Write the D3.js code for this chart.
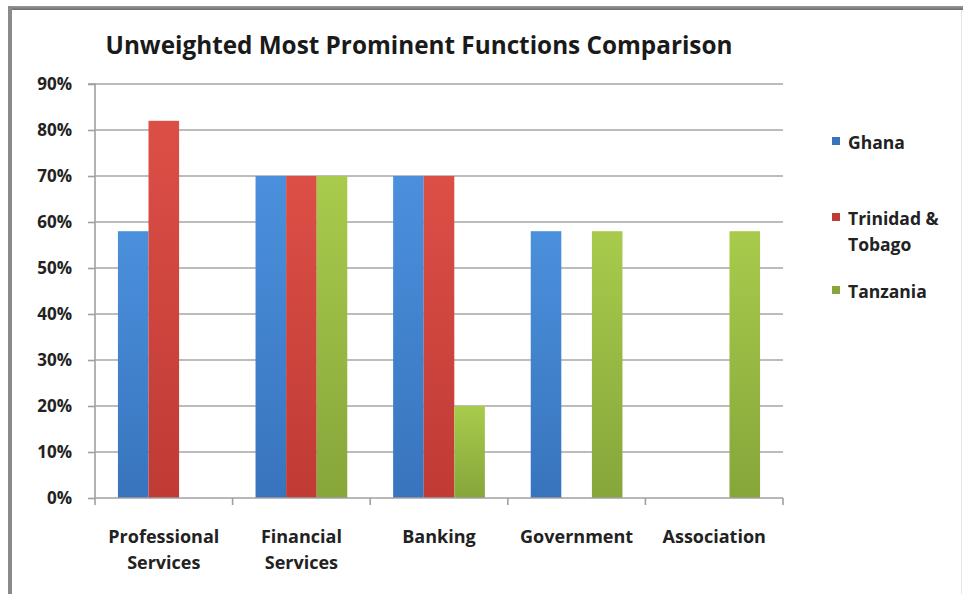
<!DOCTYPE html>
<html><head><meta charset="utf-8">
<script src="https://cdn.jsdelivr.net/npm/d3@7"></script>
<style>body{margin:0;background:#fff;}svg{display:block;font-family:"Open Sans","Liberation Sans",sans-serif;}</style>
</head><body>
<svg id="c" width="963" height="594"></svg>
<script>
const categories = ["Professional\nServices","Financial\nServices","Banking","Government","Association"];
const seriesNames = ["Ghana","Trinidad &\nTobago","Tanzania"];
const ghana = [0.58,0.70,0.70,0.58,0];
const trinidad = [0.82,0.70,0.70,0,0];
const tanzania = [0,0.70,0.20,0.58,0.58];
const yTicks = [0,0.1,0.2,0.3,0.4,0.5,0.6,0.7,0.8,0.9];
const title = "Unweighted Most Prominent Functions Comparison";

(function(){
const seriesValues = [ghana, trinidad, tanzania];
const colors = [["#4b90dc","#3874bd"],["#dc4f47","#bf3b34"],["#a8cb4c","#86a63a"]];

const svg = d3.select("#c");
const defs = svg.append("defs");
colors.forEach((c,i)=>{
  const g = defs.append("linearGradient").attr("id","g"+i).attr("x1",0).attr("y1",0).attr("x2",0).attr("y2",1);
  g.append("stop").attr("offset","0%").attr("stop-color",c[0]);
  g.append("stop").attr("offset","100%").attr("stop-color",c[1]);
});
const bg = defs.append("linearGradient").attr("id","bd").attr("x1",0).attr("y1",0).attr("x2",0).attr("y2",1);
bg.append("stop").attr("offset","0%").attr("stop-color","#9a9a9a");
bg.append("stop").attr("offset","100%").attr("stop-color","#6e6e6e");

// frame
svg.append("rect").attr("x",8).attr("y",6).attr("width",963).attr("height",4).attr("fill","url(#bd)");
svg.append("rect").attr("x",8).attr("y",6).attr("width",4).attr("height",600).attr("fill","#8a8a8a");
svg.append("line").attr("x1",961.5).attr("x2",961.5).attr("y1",10).attr("y2",594).attr("stroke","#e4e4e4").attr("stroke-width",1);

const pL=95, pR=783, pT=84, pB=498;
const x = d3.scaleBand().domain(d3.range(categories.length)).range([pL,pR]).paddingInner(0).paddingOuter(0);
const bw = x.bandwidth()/4.5;
const xs = d3.scaleBand().domain(d3.range(3)).range([bw*0.75, x.bandwidth()-bw*0.75]);
const y = d3.scaleLinear().domain([0,0.9]).range([pB,pT]);

// title
svg.append("text").attr("x",419).attr("y",54).attr("text-anchor","middle")
  .attr("font-size",24.3).attr("font-weight","bold").attr("fill","#1a1a1a").text(title);

// gridlines
svg.append("g").selectAll("line").data(yTicks.filter(d=>d>0)).join("line")
  .attr("x1",pL).attr("x2",pR).attr("y1",d=>y(d)).attr("y2",d=>y(d))
  .attr("stroke","#a6a6a6").attr("stroke-width",1.6);

// y axis
const yAxis = d3.axisLeft(y).tickValues(yTicks).tickFormat(d3.format(".0%")).tickSize(7).tickPadding(16);
const ya = svg.append("g").attr("transform",`translate(${pL},0)`).call(yAxis);
ya.select(".domain").attr("stroke","#a0a0a0").attr("stroke-width",1.6).attr("d",`M-7,${pT}H0V${pB}`);
ya.selectAll(".tick line").attr("stroke","#a0a0a0").attr("stroke-width",1.6);
ya.selectAll(".tick text").attr("font-size",17).attr("font-weight","bold").attr("fill","#222")
  .attr("font-family","'Open Sans','Liberation Sans',sans-serif");

// bars
const groups = svg.append("g").selectAll("g").data(categories).join("g")
  .attr("transform",(d,i)=>`translate(${x(i)},0)`);
groups.selectAll("rect").data((d,i)=>seriesValues.map((s,k)=>({k,v:s[i]}))).join("rect")
  .attr("x",d=>xs(d.k)).attr("width",xs.bandwidth())
  .attr("y",d=>y(d.v)).attr("height",d=>y(0)-y(d.v))
  .attr("fill",d=>`url(#g${d.k})`);

// x axis
const xAxis = d3.axisBottom(x).tickSize(0).tickFormat("");
const xa = svg.append("g").attr("transform",`translate(0,${pB})`).call(xAxis);
xa.select(".domain").attr("stroke","#a0a0a0").attr("stroke-width",1.6).attr("d",`M${pL},0H${pR}`);
svg.append("g").selectAll("line").data(d3.range(categories.length+1)).join("line")
  .attr("x1",i=>pL+i*x.step()).attr("x2",i=>pL+i*x.step())
  .attr("y1",pB).attr("y2",pB+7).attr("stroke","#a0a0a0").attr("stroke-width",1.6);

svg.append("g").selectAll("text").data(categories).join("text")
  .attr("x",(d,i)=>x(i)+x.bandwidth()/2).attr("y",543).attr("text-anchor","middle")
  .attr("font-size",18).attr("font-weight","bold").attr("fill","#222")
  .each(function(d){
    const t=d3.select(this);
    d.split("\n").forEach((ln,j)=>t.append("tspan").attr("x",t.attr("x")).attr("dy",j?26:0).text(ln));
  });

// legend
const legY = [149,225,298];
const lg = svg.append("g").selectAll("g").data(seriesNames).join("g");
lg.append("rect").attr("x",832).attr("y",(d,i)=>legY[i]-12).attr("width",8).attr("height",8)
  .attr("fill",(d,i)=>colors[i][1]);
lg.append("text").attr("x",848).attr("y",(d,i)=>legY[i]).attr("font-size",17.5).attr("font-weight","bold").attr("fill","#222")
  .each(function(d){
    const t=d3.select(this);
    d.split("\n").forEach((ln,j)=>t.append("tspan").attr("x",848).attr("dy",j?26:0).text(ln));
  });
})();
</script>
</body></html>
